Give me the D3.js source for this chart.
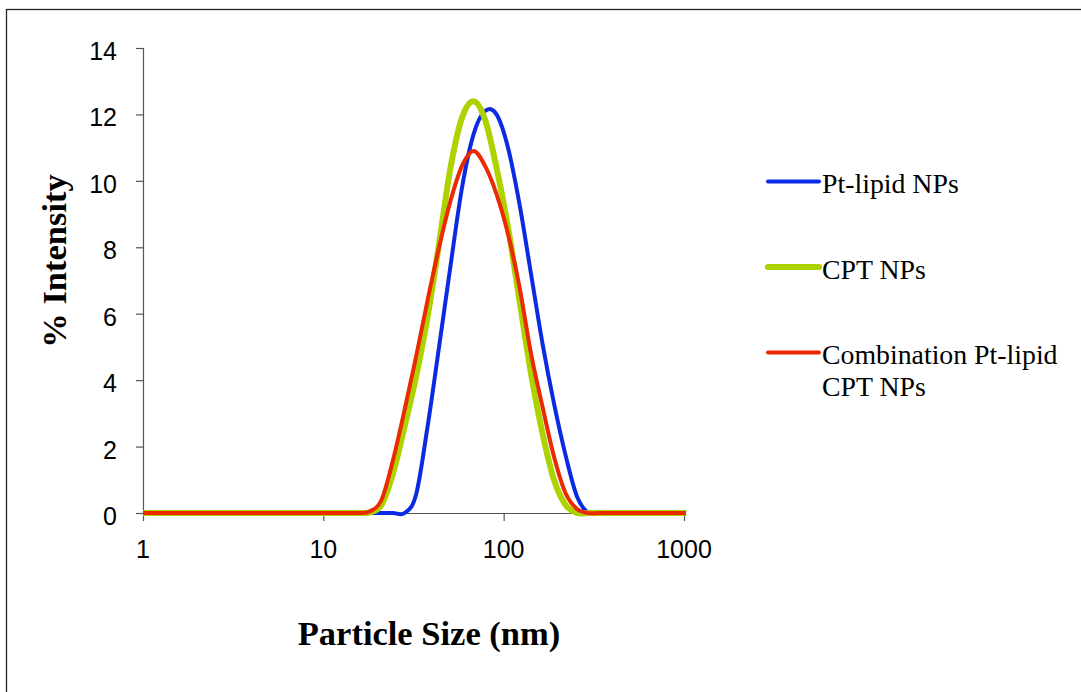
<!DOCTYPE html>
<html>
<head>
<meta charset="utf-8">
<script src="https://cdn.jsdelivr.net/npm/d3@7"></script>
<style>
  html, body { margin: 0; padding: 0; background: #fff; }
  svg { display: block; }
</style>
</head>
<body>
<svg id="chart" width="1081" height="692"></svg>
<script>
// Particle size bins (nm)
const sizes = [0.9649, 1.117, 1.294, 1.499, 1.736, 2.01, 2.328, 2.696, 3.122, 3.615,
  4.187, 4.849, 5.615, 6.503, 7.531, 8.721, 10.1, 11.7, 13.54, 15.69,
  18.17, 21.04, 24.36, 28.21, 32.67, 37.84, 43.82, 50.75, 58.77, 68.06,
  78.82, 91.28, 105.7, 122.4, 141.8, 164.2, 190.1, 220.2, 255.0, 295.3,
  342.0, 396.1, 458.7, 531.2, 615.1, 712.4, 825.0, 955.4, 1106];

const ptLipid = [0, 0, 0, 0, 0, 0, 0, 0, 0, 0,
  0, 0, 0, 0, 0, 0, 0, 0, 0, 0,
  0, 0, 0, 0, 0.55, 2.6, 5.0, 7.45, 9.8, 11.4,
  12.1, 12.0, 11.0, 9.3, 7.2, 5.1, 3.3, 1.75, 0.5, 0,
  0, 0, 0, 0, 0, 0, 0, 0, 0];

const cpt = [0, 0, 0, 0, 0, 0, 0, 0, 0, 0,
  0, 0, 0, 0, 0, 0, 0, 0, 0, 0,
  0.02, 0.25, 1.2, 2.6, 4.1, 5.9, 8.1, 10.4, 11.9, 12.4,
  11.85, 10.4, 8.6, 6.4, 4.2, 2.4, 1.0, 0.25, 0, 0,
  0, 0, 0, 0, 0, 0, 0, 0, 0];

const combo = [0, 0, 0, 0, 0, 0, 0, 0, 0, 0,
  0, 0, 0, 0, 0, 0, 0, 0, 0, 0,
  0.05, 0.4, 1.6, 3.1, 4.7, 6.4, 8.0, 9.4, 10.45, 10.9,
  10.45, 9.6, 8.4, 6.8, 4.8, 3.2, 1.7, 0.6, 0.12, 0,
  0, 0, 0, 0, 0, 0, 0, 0, 0];

const seriesNames = ["Pt-lipid NPs", "CPT NPs", "Combination Pt-lipid|CPT NPs"];
const xTicks = [1, 10, 100, 1000];
const yTicks = [0, 2, 4, 6, 8, 10, 12, 14];

const series = [
  { name: seriesNames[0], values: ptLipid, color: "#0b2be3", width: 4 },
  { name: seriesNames[1], values: cpt, color: "#acd200", width: 6 },
  { name: seriesNames[2], values: combo, color: "#ea2a00", width: 4 }
];

const svg = d3.select("#chart");

// Outer border
svg.append("rect")
  .attr("x", 6.5).attr("y", 9.5)
  .attr("width", 1100).attr("height", 700)
  .attr("fill", "none").attr("stroke", "#222").attr("stroke-width", 1.3);

const x = d3.scaleLog().domain([1, 1000]).range([143, 684]);
const y = d3.scaleLinear().domain([0, 14]).range([513, 48]);

// clip
svg.append("clipPath").attr("id", "plotclip")
  .append("rect").attr("x", 143).attr("y", 20).attr("width", 684 - 143 + 2).attr("height", 520);

const axisColor = "#555";

// Y axis
const yAxis = svg.append("g");
yAxis.append("line")
  .attr("x1", 143.5).attr("x2", 143.5)
  .attr("y1", y(14)).attr("y2", y(0))
  .attr("stroke", axisColor).attr("stroke-width", 1.2);
yAxis.selectAll("line.tick").data(yTicks).enter().append("line")
  .attr("class", "tick")
  .attr("x1", 136).attr("x2", 143.5)
  .attr("y1", d => y(d) + 0.5).attr("y2", d => y(d) + 0.5)
  .attr("stroke", axisColor).attr("stroke-width", 1.2);
yAxis.selectAll("text").data(yTicks).enter().append("text")
  .attr("x", 117).attr("y", d => y(d) + 12)
  .attr("text-anchor", "end")
  .attr("font-family", "Liberation Sans, Arial, sans-serif")
  .attr("font-size", 25)
  .attr("fill", "#000")
  .text(d => d);

// X axis
const xAxis = svg.append("g");
xAxis.append("line")
  .attr("x1", x(1)).attr("x2", x(1000))
  .attr("y1", 513.5).attr("y2", 513.5)
  .attr("stroke", axisColor).attr("stroke-width", 1.2);
xAxis.selectAll("line.tick").data(xTicks).enter().append("line")
  .attr("class", "tick")
  .attr("x1", d => x(d) + 0.5).attr("x2", d => x(d) + 0.5)
  .attr("y1", 513.5).attr("y2", 521)
  .attr("stroke", axisColor).attr("stroke-width", 1.2);
xAxis.selectAll("text").data(xTicks).enter().append("text")
  .attr("x", d => x(d)).attr("y", 558)
  .attr("text-anchor", "middle")
  .attr("font-family", "Liberation Sans, Arial, sans-serif")
  .attr("font-size", 25)
  .attr("fill", "#000")
  .text(d => d);

// Lines
const line = d3.line()
  .x((d, i) => x(sizes[i]))
  .y(d => y(d))
  .curve(d3.curveCatmullRom.alpha(0));

const plot = svg.append("g").attr("clip-path", "url(#plotclip)");
series.forEach(s => {
  plot.append("path")
    .attr("d", line(s.values))
    .attr("fill", "none")
    .attr("stroke", s.color)
    .attr("stroke-width", s.width)
    .attr("stroke-linejoin", "round");
});

// Axis titles
svg.append("text")
  .attr("x", 429).attr("y", 645)
  .attr("text-anchor", "middle")
  .attr("font-family", "Liberation Serif, Times New Roman, serif")
  .attr("font-weight", "bold")
  .attr("font-size", 34.5)
  .attr("fill", "#000")
  .text("Particle Size (nm)");

svg.append("text")
  .attr("transform", "translate(66,261) rotate(-90)")
  .attr("text-anchor", "middle")
  .attr("font-family", "Liberation Serif, Times New Roman, serif")
  .attr("font-weight", "bold")
  .attr("font-size", 34.5)
  .attr("fill", "#000")
  .text("% Intensity");

// Legend
const legendY = [181.5, 267, 352.5];
const legend = svg.append("g");
series.forEach((s, i) => {
  legend.append("line")
    .attr("x1", 768).attr("x2", 819)
    .attr("y1", legendY[i]).attr("y2", legendY[i])
    .attr("stroke", s.color)
    .attr("stroke-width", s.width)
    .attr("stroke-linecap", "round");
  const parts = s.name.split("|");
  const t = legend.append("text")
    .attr("font-family", "Liberation Serif, Times New Roman, serif")
    .attr("font-size", 27.8)
    .attr("fill", "#000");
  parts.forEach((p, j) => {
    t.append("tspan")
      .attr("x", 822)
      .attr("y", legendY[i] + 11.5 + j * 32)
      .text(p);
  });
});
</script>
</body>
</html>
